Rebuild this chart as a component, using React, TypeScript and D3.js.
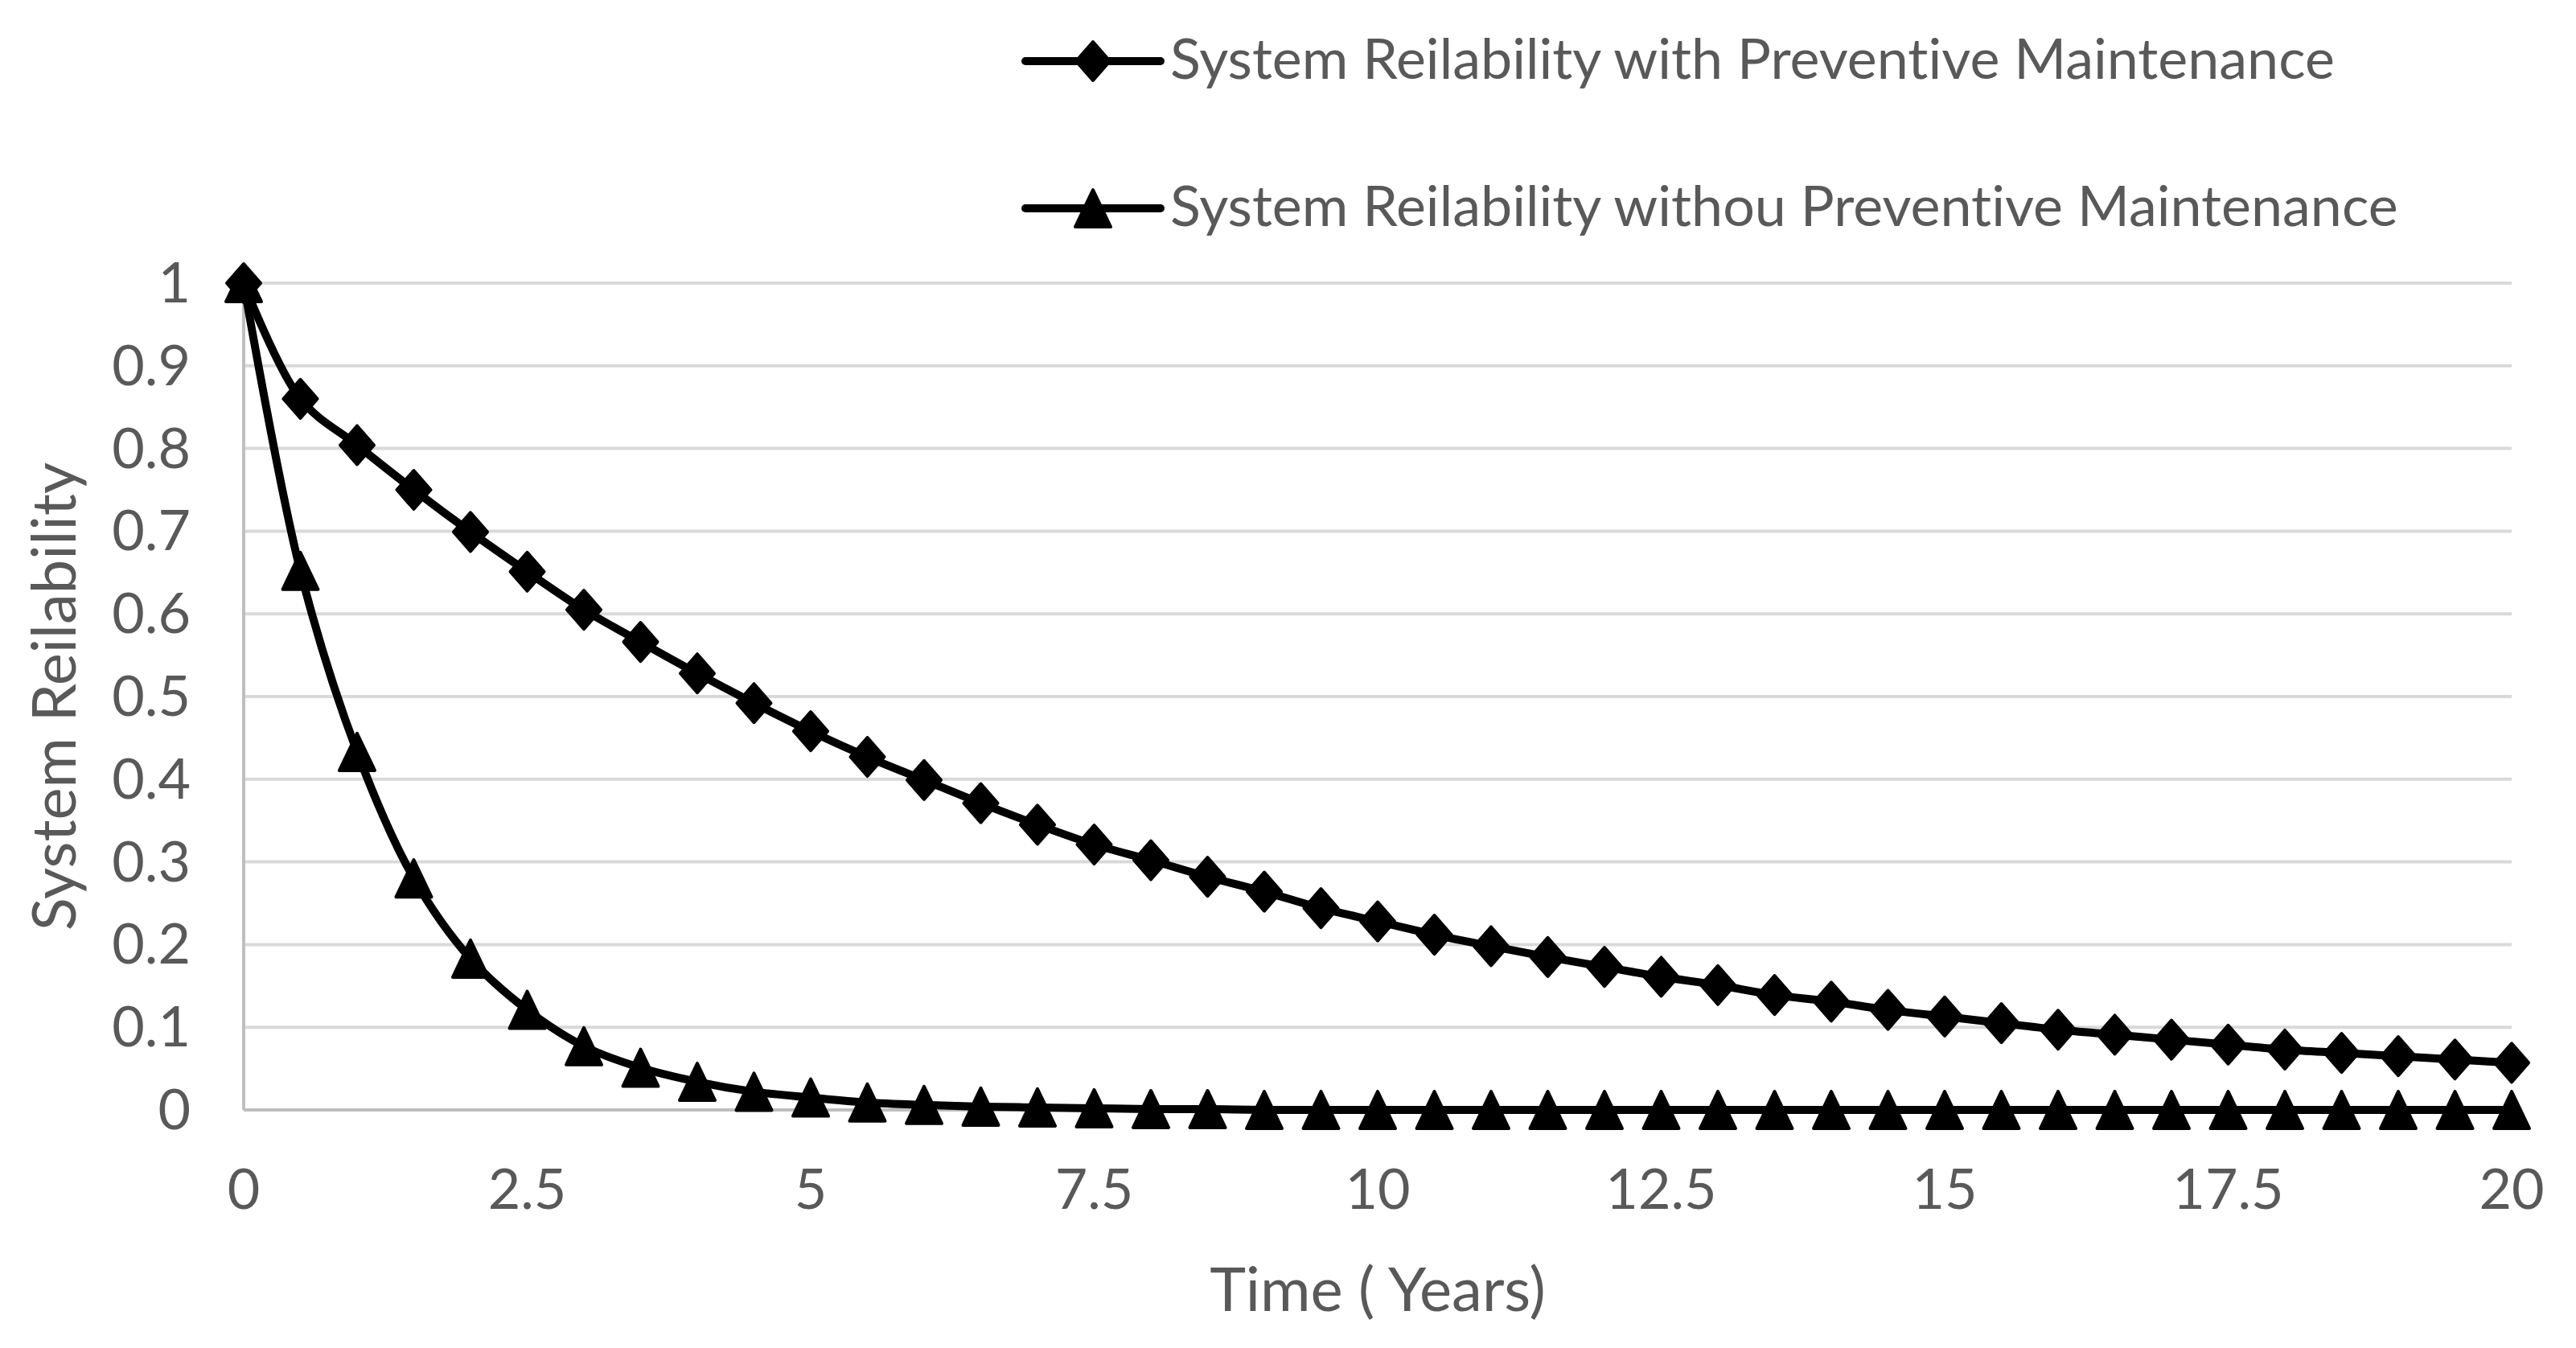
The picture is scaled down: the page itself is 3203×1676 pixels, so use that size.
import React from "react";
import { scaleLinear, line, curveCatmullRom } from "d3";

// time in years, sampled every half year
const years = [
  0, 0.5, 1, 1.5, 2, 2.5, 3, 3.5, 4, 4.5, 5, 5.5, 6, 6.5, 7, 7.5, 8, 8.5, 9, 9.5, 10,
  10.5, 11, 11.5, 12, 12.5, 13, 13.5, 14, 14.5, 15, 15.5, 16, 16.5, 17, 17.5, 18, 18.5,
  19, 19.5, 20,
];

// reliability with preventive maintenance (diamonds)
const withPM = [
  1.0, 0.86, 0.804, 0.75, 0.699, 0.651, 0.605, 0.566, 0.528, 0.492, 0.458, 0.427, 0.399,
  0.371, 0.345, 0.321, 0.302, 0.282, 0.264, 0.244, 0.228, 0.212, 0.198, 0.185, 0.173,
  0.161, 0.151, 0.139, 0.131, 0.121, 0.113, 0.105, 0.097, 0.091, 0.085, 0.079, 0.073,
  0.069, 0.065, 0.061, 0.057,
];

// reliability without preventive maintenance (triangles)
const withoutPM = [
  1.0, 0.652, 0.433, 0.28, 0.183, 0.121, 0.077, 0.051, 0.034, 0.022, 0.015, 0.009, 0.006,
  0.004, 0.003, 0.002, 0.001, 0.001, 0, 0, 0, 0, 0, 0, 0, 0, 0, 0, 0, 0, 0, 0, 0, 0, 0, 0,
  0, 0, 0, 0, 0,
];

const xTicks = [0, 2.5, 5, 7.5, 10, 12.5, 15, 17.5, 20];
const yTicks = [0, 0.1, 0.2, 0.3, 0.4, 0.5, 0.6, 0.7, 0.8, 0.9, 1];

const seriesNames = [
  "System Reilability with Preventive Maintenance",
  "System Reilability withou Preventive Maintenance",
];

const W = 3203;
const H = 1676;
const plot = { left: 303, right: 3123, top: 352, bottom: 1380 };
const font = "Lato, 'Open Sans', sans-serif";
const textColor = "#595959";

const x = scaleLinear().domain([0, 20]).range([plot.left, plot.right]);
const y = scaleLinear().domain([0, 1]).range([plot.bottom, plot.top]);

const pathGen = line<[number, number]>()
  .x((d) => x(d[0]))
  .y((d) => y(d[1]))
  .curve(curveCatmullRom);

const diamond = (w: number, h: number) =>
  `M0,${-h / 2}L${w / 2},0L0,${h / 2}L${-w / 2},0Z`;
const triangle = (w: number, h: number) =>
  `M0,${-h / 2}L${w / 2},${h / 2}L${-w / 2},${h / 2}Z`;

const markers = [diamond(42, 48), triangle(44, 46)];

export default function App() {
  const series = [withPM, withoutPM];

  return (
    <svg
      width={W}
      height={H}
      style={{ position: "absolute", left: 0, top: 0, background: "#fff", fontVariantLigatures: "none" }}
      fontFamily={font}
    >
      <rect width={W} height={H} fill="#fff" />

      {/* gridlines */}
      {yTicks.map((t) => (
        <line
          key={"g" + t}
          x1={plot.left}
          x2={plot.right}
          y1={y(t)}
          y2={y(t)}
          stroke="#d9d9d9"
          strokeWidth={4}
        />
      ))}

      {/* axis lines */}
      <line x1={plot.left} x2={plot.left} y1={y(1)} y2={y(0)} stroke="#bfbfbf" strokeWidth={4} />
      <line x1={plot.left} x2={plot.right} y1={y(0)} y2={y(0)} stroke="#bfbfbf" strokeWidth={4} />

      {/* y tick labels */}
      {yTicks.map((t) => (
        <text
          key={"y" + t}
          x={237}
          y={y(t) + 24}
          textAnchor="end"
          fontSize={70}
          fill={textColor}
        >
          {String(t)}
        </text>
      ))}

      {/* x tick labels */}
      {xTicks.map((t) => (
        <text
          key={"x" + t}
          x={x(t)}
          y={1503}
          textAnchor="middle"
          fontSize={70}
          fill={textColor}
        >
          {String(t)}
        </text>
      ))}

      {/* axis titles */}
      <text
        x={(plot.left + plot.right) / 2}
        y={1630}
        textAnchor="middle"
        fontSize={76}
        fill={textColor}
      >
        Time ( Years)
      </text>
      <text
        transform={`translate(94, ${(plot.top + plot.bottom) / 2}) rotate(-90)`}
        textAnchor="middle"
        fontSize={76}
        fill={textColor}
      >
        System Reilability
      </text>

      {/* series */}
      {series.map((vals, si) => {
        const pts: [number, number][] = years.map((t, i) => [t, vals[i]]);
        return (
          <g key={"s" + si}>
            <path
              d={pathGen(pts) || ""}
              fill="none"
              stroke="#000"
              strokeWidth={10}
              strokeLinejoin="round"
            />
            {pts.map((p, i) => (
              <path
                key={i}
                d={markers[si]}
                transform={`translate(${x(p[0])}, ${y(p[1])})`}
                fill="#000"
                stroke="#000"
                strokeWidth={4}
                strokeLinejoin="round"
              />
            ))}
          </g>
        );
      })}

      {/* legend */}
      {seriesNames.map((name, i) => {
        const ly = i === 0 ? 76 : 259;
        return (
          <g key={"l" + i}>
            <line x1={1275} x2={1443} y1={ly} y2={ly} stroke="#000" strokeWidth={10} strokeLinecap="round" />
            <path
              d={markers[i]}
              transform={`translate(1359, ${ly})`}
              fill="#000"
              stroke="#000"
              strokeWidth={4}
              strokeLinejoin="round"
            />
            <text x={1455} y={ly + 22} fontSize={70} fill={textColor}>
              {name}
            </text>
          </g>
        );
      })}
    </svg>
  );
}
